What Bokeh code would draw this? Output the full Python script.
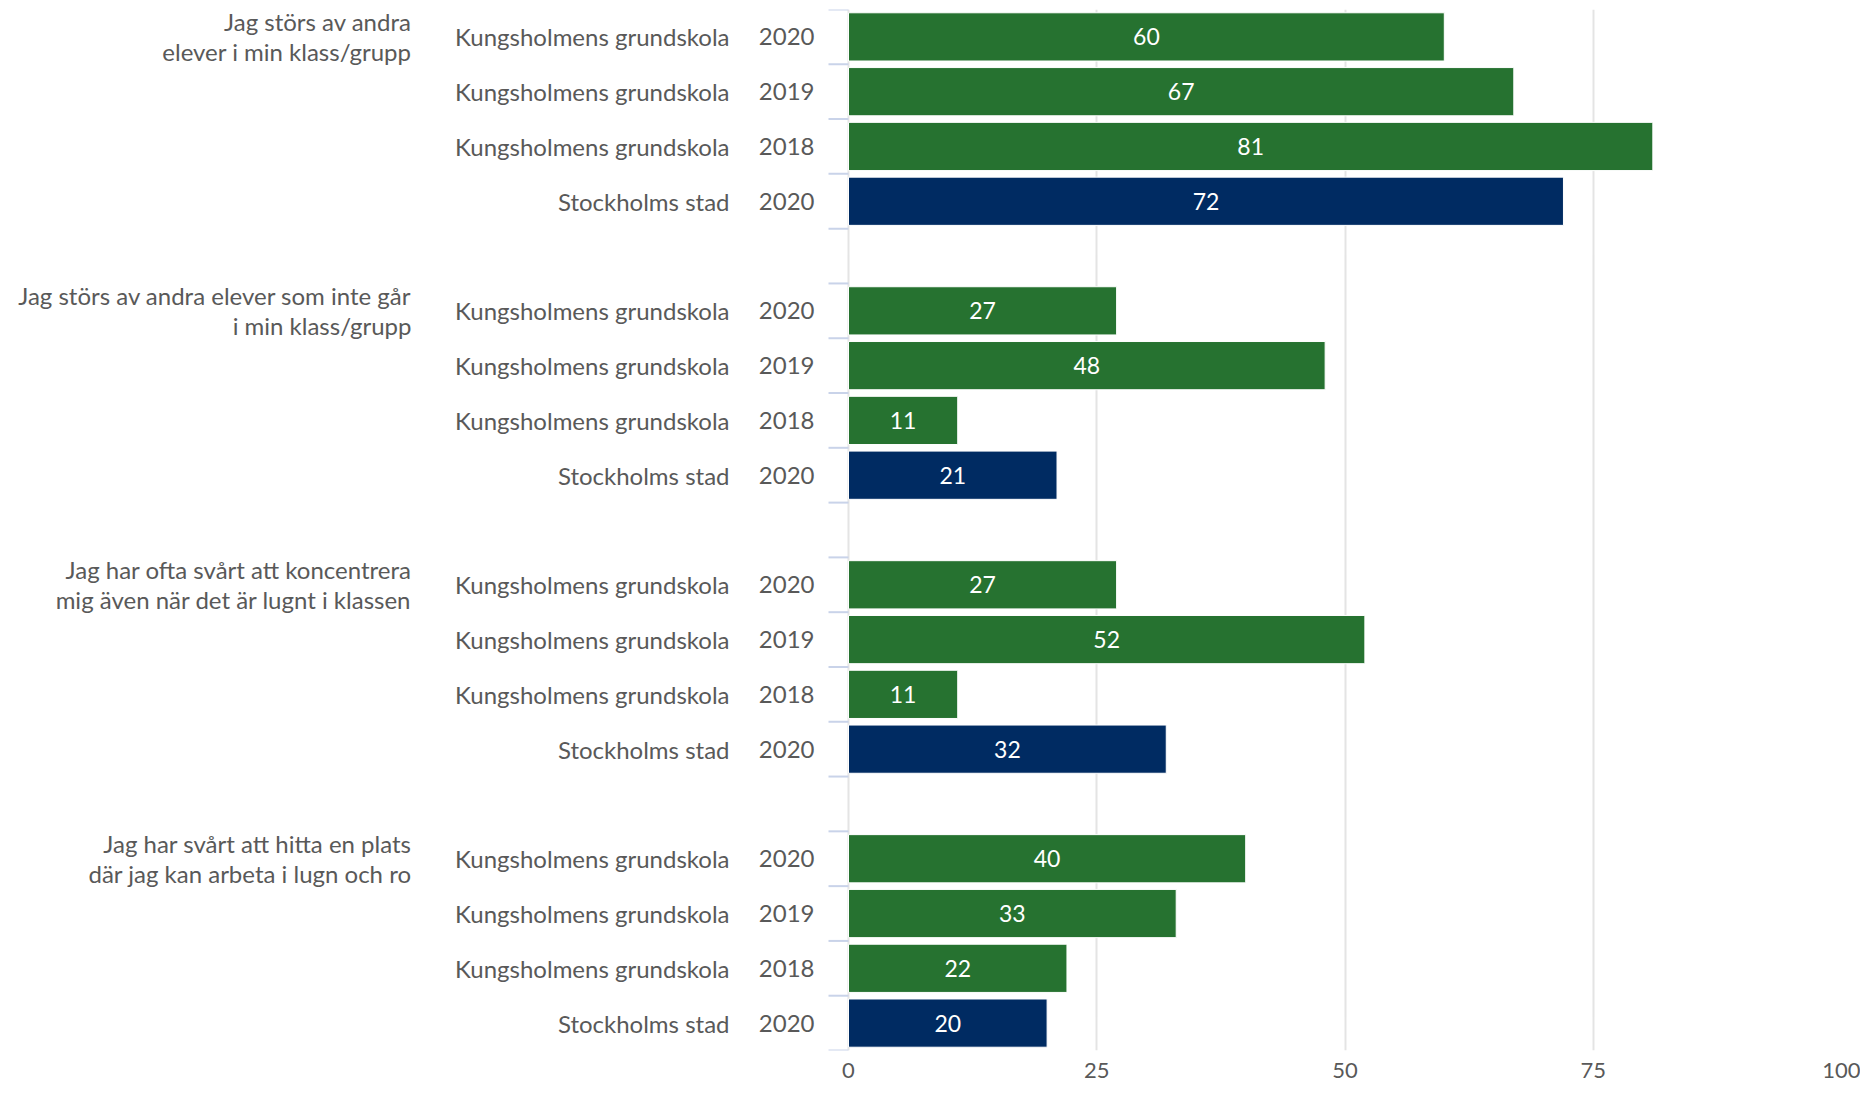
from bokeh.plotting import figure
from bokeh.models import Range1d, FixedTicker, ColumnDataSource
from bokeh.core.properties import value
from bokeh.embed import file_html
from bokeh.resources import INLINE

# ---------------- data ----------------
questions = [
    "Jag störs av andra\nelever i min klass/grupp",
    "Jag störs av andra elever som inte går\ni min klass/grupp",
    "Jag har ofta svårt att koncentrera\nmig även när det är lugnt i klassen",
    "Jag har svårt att hitta en plats\ndär jag kan arbeta i lugn och ro",
]
schools = ["Kungsholmens grundskola", "Kungsholmens grundskola",
           "Kungsholmens grundskola", "Stockholms stad"]
years = ["2020", "2019", "2018", "2020"]
q1_values = [60, 67, 81, 72]
q2_values = [27, 48, 11, 21]
q3_values = [27, 52, 11, 32]
q4_values = [40, 33, 22, 20]
values = [q1_values, q2_values, q3_values, q4_values]
x_ticks = [0, 25, 50, 75, 100]

# ---------------- style ----------------
GREEN = "#267230"
NAVY = "#002b62"
TEXT = "#595959"
GRID = "#e4e4e4"
TICK = "#c9d3e9"
FONT = "Lato"

rows_per_group = len(schools)
gap = 1
n_bands = len(questions) * (rows_per_group + gap) - gap

W, H = 1860, 1088
RIGHT_BORDER = 19
LEFT_PX = 848
frame_w = W - RIGHT_BORDER
px_per_unit = (frame_w - LEFT_PX) / 100.0
x_start = -LEFT_PX / px_per_unit

ys, vals, mids, cols, sch, yrs, vlab = [], [], [], [], [], [], []
for g, vlist in enumerate(values):
    for r, v in enumerate(vlist):
        y = g * (rows_per_group + gap) + r + 0.5
        ys.append(y)
        vals.append(v)
        mids.append(v / 2.0)
        cols.append(NAVY if schools[r].startswith("Stockholm") else GREEN)
        sch.append(schools[r])
        yrs.append(years[r])
        vlab.append(str(v))

src = ColumnDataSource(dict(y=ys, v=vals, mid=mids, color=cols,
                            school=sch, year=yrs, vlabel=vlab))

q_src = ColumnDataSource(dict(
    y=[g * (rows_per_group + gap) + 0.5 for g in range(len(questions))],
    q=questions))

edges = []
for g in range(len(questions)):
    for r in range(rows_per_group + 1):
        edges.append(g * (rows_per_group + gap) + r)

p = figure(width=W, height=H, output_backend="svg", toolbar_location=None,
           x_range=Range1d(x_start, 100), y_range=Range1d(n_bands, 0),
           y_axis_location=None,
           min_border_left=0, min_border_right=RIGHT_BORDER,
           min_border_top=9, min_border_bottom=38)
p.outline_line_color = None
p.background_fill_color = "white"
p.border_fill_color = "white"
p.ygrid.grid_line_color = None
p.xgrid.ticker = FixedTicker(ticks=x_ticks)
p.xgrid.grid_line_color = GRID
p.xgrid.grid_line_width = 2

xa = p.xaxis[0]
xa.ticker = FixedTicker(ticks=x_ticks)
xa.axis_line_color = None
xa.major_tick_line_color = None
xa.minor_tick_line_color = None
xa.major_tick_out = 0
xa.major_tick_in = 0
xa.major_label_standoff = 12
xa.major_label_text_font = FONT
xa.major_label_text_font_size = "22px"
xa.major_label_text_color = TEXT

# category tick marks on the value axis
tick_len = 20 / px_per_unit
p.segment(x0=-tick_len, x1=0, y0=edges, y1=edges, line_color=TICK, line_width=2)

p.hbar(y="y", left=0, right="v", height=0.88, fill_color="color",
       line_color="white", line_width=1, source=src)

p.text(x="mid", y="y", text="vlabel", text_color="white", text_align="center",
       text_baseline="middle", text_font=value(FONT), text_font_size="23px",
       source=src)

p.text(x=0, y="y", text="year", x_offset=-34, text_align="right",
       text_baseline="middle", text_font=value(FONT), text_font_size="24px",
       text_color=TEXT, source=src)
p.text(x=0, y="y", text="school", x_offset=-119, text_align="right",
       text_baseline="middle", text_font=value(FONT), text_font_size="24px",
       text_color=TEXT, source=src)
p.text(x=0, y="y", text="q", x_offset=-437, y_offset=0, text_align="right",
       text_baseline="middle", text_font=value(FONT), text_font_size="24px",
       text_line_height=1.04, text_color=TEXT, source=q_src)

open("out.html", "w").write(file_html(p, INLINE))
